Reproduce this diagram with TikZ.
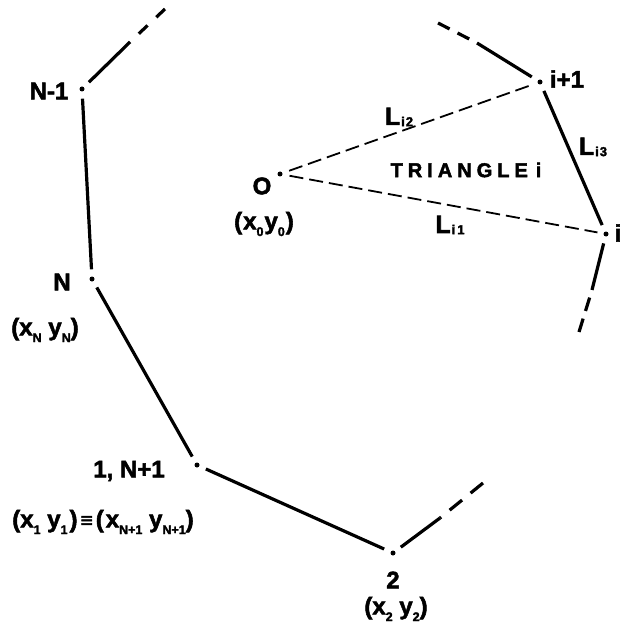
\documentclass[tikz,border=0pt]{standalone}
\usepackage{fontspec}
\setmainfont{Liberation Sans}[BoldFeatures={FakeBold=2.2}]
\newcommand\dsb[1]{\raisebox{-0.28em}{\fontsize{12.5}{12.5}\selectfont #1}}
\newcommand\lsb[1]{\hspace{1pt}\raisebox{-0.05em}{\fontsize{13}{13}\selectfont #1}}
\begin{document}
\begin{tikzpicture}[x=1pt,y=-1pt,
  sline/.style={line width=3.2pt},
  edge/.style={sline, shorten <=7pt, shorten >=7pt},
  tailA/.style={line width=3.2pt, dash pattern=on 12pt off 12pt},
  tailB/.style={line width=3.2pt, dash pattern=on 16pt off 11pt},
  tailC/.style={line width=3.2pt, dash pattern=on 13pt off 9pt},
  tailD/.style={line width=3.2pt, dash pattern=on 14pt off 8pt},
  dline/.style={line width=1.8pt, dash pattern=on 14pt off 6pt, shorten <=7pt, shorten >=6pt},
  vdot/.style={circle, fill, inner sep=0pt, minimum size=5pt},
  big/.style={font=\bfseries\fontsize{24}{24}\selectfont, inner sep=0pt},
  crd/.style={font=\bfseries\fontsize{24}{24}\selectfont, inner sep=0pt},
  mid/.style={font=\bfseries\fontsize{20}{20}\selectfont, inner sep=0pt},
  lbl/.style={font=\bfseries\fontsize{25}{25}\selectfont, inner sep=0pt}]
\useasboundingbox (0,0) rectangle (621,628);
% vertices
\node[vdot] (Nm1) at (82,89) {};
\node[vdot] (N) at (92,279) {};
\node[vdot] (P1) at (197,465) {};
\node[vdot] (P2) at (393,553) {};
\node[vdot] (O) at (280,174) {};
\node[vdot] (Ip1) at (540,82) {};
\node[vdot] (I) at (606,234) {};
% tail coordinates
\coordinate (a1m) at (130,42);
\coordinate (a1) at (165,9);
\coordinate (b1m) at (440,518);
\coordinate (b1) at (483,483);
\coordinate (d1m) at (477,43);
\coordinate (d1) at (438,23);
\coordinate (c1m) at (592,290);
\coordinate (c1) at (579,332);
% polygon edges
\draw[edge] (Nm1) -- (N);
\draw[edge] (N) -- (P1);
\draw[edge] (P1) -- (P2);
\draw[edge] (Ip1) -- (I);
% tails
\draw[sline, shorten <=7pt] (Nm1) -- (a1m);
\draw[tailA] (a1) -- (a1m);
\draw[sline, shorten <=7pt] (P2) -- (b1m);
\draw[tailB] (b1) -- (b1m);
\draw[sline, shorten <=7pt] (Ip1) -- (d1m);
\draw[tailC] (d1) -- (d1m);
\draw[sline, shorten <=7pt] (I) -- (c1m);
\draw[tailD] (c1) -- (c1m);
% triangle sides from O
\draw[dline] (O) -- (Ip1);
\draw[dline] (O) -- (I);
% labels
\node[big] (tNm1) at (49,91) {N-1};
\node[big] (tN) at (62,282) {N};
\node[crd] (cN) at (45,330) {(x\dsb{N} y\dsb{N})};
\node[big] (tO) at (262,186) {O};
\node[crd] (cO) at (264,224) {(\kern1pt x\dsb{0}\kern1pt y\dsb{0}\kern1pt)};
\node[lbl] (tL2) at (399,117) {L\lsb{i\kern1pt 2}};
\node[mid] (tTri) at (466,170) {T\hspace{5pt}R\hspace{5pt}I\hspace{5pt}A\hspace{5pt}N\hspace{5pt}G\hspace{5pt}L\hspace{5pt}E\hspace{8pt}i};
\node[lbl] (tL1) at (450,225) {L\lsb{i\kern2pt 1}};
\node[lbl] (tL3) at (593,147) {L\lsb{i\kern1pt 3}};
\node[big] (tIp1) at (567,79) {i+1};
\node[big] (tI) at (618,233) {i};
\node[big] (tP1) at (129,471) {1, N+1};
\node[crd] (cP1) at (103,522) {(x\dsb{1} y\dsb{1}\kern2pt)\kern3pt{\fontsize{21}{21}\selectfont ≡}\kern3pt(\kern2pt x\dsb{N+1} y\dsb{N+1})};
\node[big] (tP2) at (393,580) {2};
\node[crd] (cP2) at (396,609) {(x\dsb{2} y\dsb{2})};
\end{tikzpicture}
\end{document}
